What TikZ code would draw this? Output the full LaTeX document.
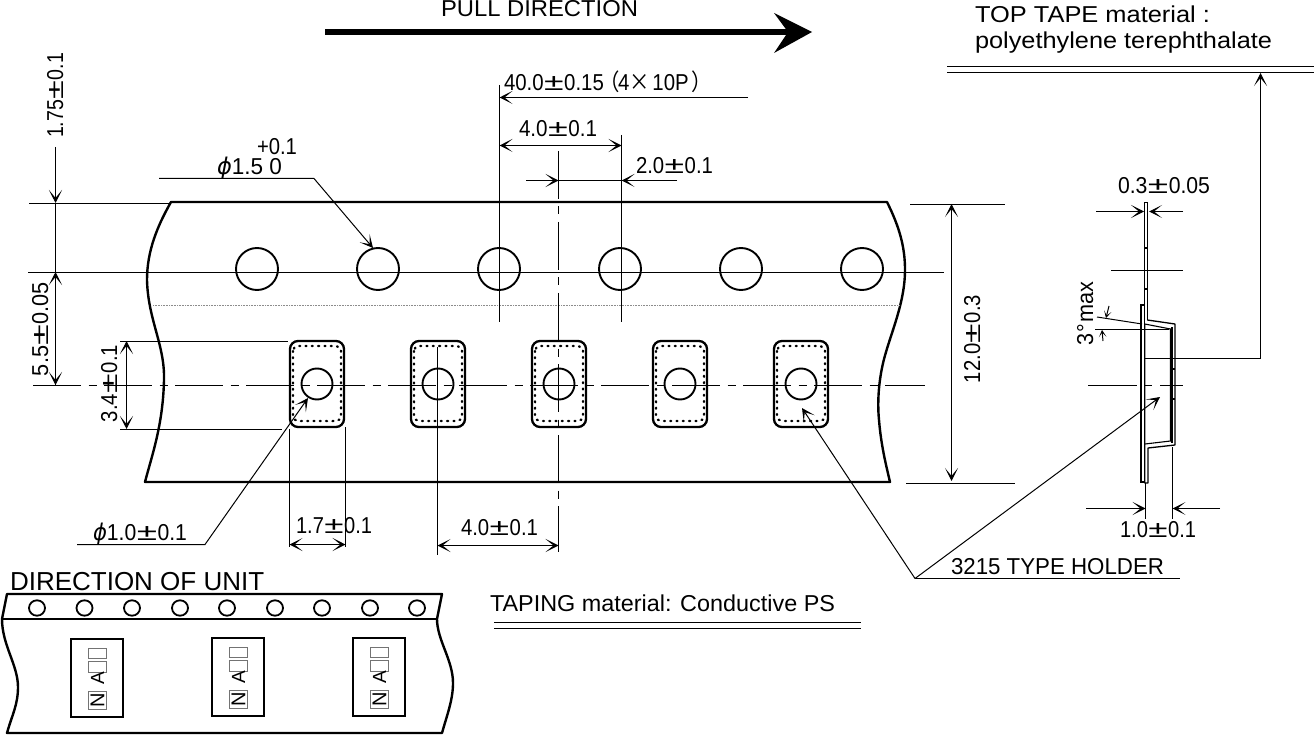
\documentclass[tikz,border=0pt]{standalone}
\usepackage{graphicx}
\usepackage{fontspec}
\setmainfont{Liberation Sans}
\newfontfamily\cjkfont{Noto Sans CJK JP}
\newfontfamily\phifont{DejaVu Sans}
\usetikzlibrary{arrows.meta}
\newcommand{\fitw}[2]{\resizebox{#1pt}{\height}{\fontsize{23}{23}\selectfont #2}}
\newcommand{\pmw}{\kern0.5pt\scalebox{1.75}[1.02]{±}\kern0.5pt}
\newcommand{\phw}{{\phifont\itshape ϕ}}
\newcommand{\lab}[5]{\node[txt] (#1) at (#2,#3) {\fitw{#4}{#5}};}
\newcommand{\rlab}[5]{\node[txt,rotate=90] (#1) at (#2,#3) {\fitw{#4}{#5}};}
\tikzset{
  tp/.tip={Stealth[length=13pt,width=13pt,inset=8pt]},
  stp/.tip={Stealth[length=7pt,width=7.5pt,inset=4.5pt]},
  txt/.style={anchor=base west,inner sep=0pt,outer sep=0pt},
  thinline/.style={line width=1pt},
  outline/.style={line width=2.4pt,line join=round},
  centre/.style={line width=1pt,dash pattern=on 48pt off 7.5pt on 8pt off 7.5pt},
  dimline/.style={line width=1pt,-tp},
  dimboth/.style={line width=1pt,tp-tp},
  pocket/.style={line width=2.3pt,rounded corners=8pt},
  dots/.style={line width=2.4pt,line cap=round,dash pattern=on 0.9pt off 5.4pt,rounded corners=5pt},
  roundhole/.style={line width=1.9pt},
  unitbox/.style={line width=1.8pt},
  markbox/.style={line width=1pt,draw=black!55}
}
\begin{document}
\begin{tikzpicture}[x=1pt,y=-1pt]
\useasboundingbox (0,0) rectangle (1314,735);
% pull arrow
\draw[line width=6pt] (325,32) -- (792,32);
\fill (812,32) -- (774,13) -- (788,32) -- (774,53) -- cycle;
\lab{pull}{441}{17}{197}{PULL DIRECTION}
% top tape note
\lab{tta}{975}{23}{235}{TOP TAPE material :}
\lab{ttb}{975}{49}{297}{polyethylene terephthalate}
\draw[thinline] (947,66.5) -- (1314,66.5);
\draw[thinline] (947,72.5) -- (1314,72.5);
\draw[thinline,-tp] (1145,358.5) -- (1260.5,358.5) -- (1260.5,73);
% main tape outline
\draw[outline] (171,202) -- (887,202)
  .. controls (900,228) and (905,248) .. (905,270)
  .. controls (905,300) and (893,328) .. (886,352)
  .. controls (879,375) and (877,400) .. (879,420)
  .. controls (881,445) and (886,465) .. (890,482)
  -- (145,482)
  .. controls (152,455) and (163,425) .. (164,380)
  .. controls (165,345) and (148,320) .. (147,280)
  .. controls (147,250) and (158,225) .. (171,202) -- cycle;
\draw[line width=1pt,draw=black!45,dash pattern=on 1pt off 0.6pt] (153,305.5) -- (900,305.5);
% sprocket holes
\foreach \hx in {257,378,499,620,741,862}
  \draw[roundhole] (\hx,269) circle[radius=21];
% pockets
\foreach \px in {317,438,559,680,801}{
  \draw[pocket] (\px-27,341) rectangle (\px+27,427);
  \draw[dots] (\px-24,346) rectangle (\px+24,421);
  \draw[roundhole] (\px,384) circle[radius=15.5];
}
% horizontal extension lines
\draw[thinline] (29,203.5) -- (171,203.5);
\draw[thinline] (28,272.5) -- (944,272.5);
\draw[centre] (33,385.5) -- (925,385.5);
\draw[thinline] (120,341.5) -- (288,341.5);
\draw[thinline] (120,429.5) -- (282,429.5);
\draw[thinline] (910,204.5) -- (1005,204.5);
\draw[thinline] (906,483.5) -- (1015,483.5);
% vertical extension lines
\draw[thinline] (499.5,85) -- (499.5,322);
\draw[thinline] (621.5,135) -- (621.5,322);
\draw[centre] (558.5,151) -- (558.5,552);
\draw[thinline] (437.5,347) -- (437.5,555);
\draw[thinline] (289.5,429) -- (289.5,547);
\draw[thinline] (345.5,427) -- (345.5,547);
% top dimensions
\draw[dimline] (748,97.5) -- (499.5,97.5);
\lab{d40}{504}{91}{198}{40.0\pmw 0.15\kern-5pt{\cjkfont （}\kern-2pt 4{\cjkfont ×}\kern3pt 10P\kern3pt{\cjkfont ）}\kern-11pt}
\draw[dimboth] (499.5,145.5) -- (621.5,145.5);
\lab{d4a}{519}{137}{78}{4.0\pmw 0.1}
\draw[dimline] (526,180.5) -- (558.5,180.5);
\draw[dimline] (677,180.5) -- (621.5,180.5);
\draw[thinline] (558.5,180.5) -- (621.5,180.5);
\lab{d2}{636}{174}{77}{2.0\pmw 0.1}
% left dimensions
\draw[dimline] (55.5,147) -- (55.5,203);
\draw[thinline] (55.5,203) -- (55.5,272);
\draw[dimline] (55.5,385) -- (55.5,272);
\draw[dimline] (55.5,272) -- (55.5,385);
\rlab{d175}{63}{138}{85}{1.75\pmw 0.1}
\rlab{d55}{48}{376}{94}{5.5\pmw 0.05}
\draw[dimboth] (126.5,341) -- (126.5,429);
\rlab{d34}{117}{422}{77}{3.4\pmw 0.1}
% hole diameter
\draw[thinline,-tp] (159,178.5) -- (314,178.5) -- (373,248);
\lab{phia}{217}{175}{65}{\phw 1.5 0}
\lab{phib}{257}{155}{40}{+0.1}
% pocket hole diameter
\draw[thinline,-tp] (77,544.5) -- (205,544.5) -- (308,398);
\lab{phic}{93}{540}{94}{\phw 1.0\pmw 0.1}
% bottom dimensions
\draw[dimboth] (289.5,544.5) -- (345.5,544.5);
\lab{d17}{296}{533}{76}{1.7\pmw 0.1}
\draw[dimboth] (437.5,545.5) -- (558.5,545.5);
\lab{d4b}{461}{535}{77}{4.0\pmw 0.1}
% width
\draw[dimboth] (951.5,204) -- (951.5,481);
\rlab{d12}{980}{383}{88}{12.0\pmw 0.3}
% holder leaders
\coordinate (hld) at (915,578.5);
\draw[thinline] (hld) -- (1180,578.5);
\draw[dimline] (hld) -- (802,408);
\draw[dimline] (hld) -- (1160,397);
\lab{hold}{951}{574}{213}{3215 TYPE HOLDER}
% taping note
\lab{tap}{490}{611}{345}{TAPING material: Conductive PS}
\draw[thinline] (494,622.5) -- (861,622.5);
\draw[thinline] (494,628.5) -- (861,628.5);
% side view
\draw[thinline] (1147.3,320) -- (1147.3,203) -- (1144,203) -- (1144,305);
\draw[line width=1.3pt] (1141,305) rectangle (1144.2,482);
\draw[line width=1.3pt,line join=round] (1147.3,320) -- (1175,324) -- (1175,445) -- (1148,448) -- (1148,483) -- (1144.7,483) -- (1144.7,324);
\draw[line width=1.1pt] (1144.7,324) -- (1170.5,329) -- (1170.5,441) -- (1145,444);
\draw[line width=1.8pt] (1172,327) -- (1172,443);
\draw[line width=1.6pt] (1144,248) -- (1147,248) (1144,289) -- (1147,289);
\draw[line width=1.6pt] (1170.5,369) -- (1175,369) (1170.5,399) -- (1175,399);
\draw[dimline] (1096,211.5) -- (1144,211.5);
\draw[dimline] (1183,211.5) -- (1149,211.5);
\draw[thinline] (1111,270.5) -- (1183,270.5);
\lab{d03}{1118}{194}{92}{0.3\pmw 0.05}
\draw[line width=1pt,dash pattern=on 49pt off 7pt on 8pt off 8pt] (1088,385.5) -- (1183,385.5);
\draw[thinline] (1097,317) -- (1142,324);
\draw[thinline] (1095,329.5) -- (1169,329.5);
\draw[line width=1pt,-stp] (1109,306) -- (1106,318);
\draw[line width=1pt,-stp] (1103,341) -- (1102,330);
\rlab{d3}{1093}{345}{63}{3\kern0.5pt°\kern1pt max}
\draw[thinline] (1145.5,483) -- (1145.5,519);
\draw[thinline] (1172.5,447) -- (1172.5,519);
\draw[dimline] (1086,508.5) -- (1145.5,508.5);
\draw[dimline] (1220,508.5) -- (1172.5,508.5);
\lab{d10}{1120}{537}{76}{1.0\pmw 0.1}
% direction of unit
\node[txt] (dirn) at (10,590) {\fontsize{26}{26}\selectfont DIRECTION OF UNIT};
\draw[outline] (7,594) -- (442,594) -- (437,619)
  .. controls (437,640) and (453,660) .. (453,683)
  .. controls (453,700) and (447,715) .. (442,733)
  -- (7,733)
  .. controls (12,715) and (18,705) .. (18,687)
  .. controls (18,665) and (2,645) .. (2,619) -- cycle;
\draw[line width=1.8pt] (2,619) -- (437,619);
\foreach \cx in {37,84.5,132,180,227,275,322,370,417}
  \draw[line width=1.8pt] (\cx,608) ellipse[x radius=8,y radius=7.7];
\foreach \ux/\uy in {97/0,238/-1,379/-1}{
  \draw[unitbox] (\ux-26,639+\uy) rectangle (\ux+26,717+\uy);
  \draw[markbox] (\ux-9,648+\uy) rectangle (\ux+9.5,658+\uy);
  \draw[markbox] (\ux-9,661+\uy) rectangle (\ux+9.5,672+\uy);
  \draw[markbox] (\ux-9,691+\uy) rectangle (\ux+9.5,709+\uy);
  \node[inner sep=0pt,rotate=90,font=\fontsize{19}{19}\selectfont] (mka\ux) at (\ux+0.5,678+\uy) {A};
  \node[inner sep=0pt,rotate=90,font=\fontsize{20}{20}\selectfont] (mkn\ux) at (\ux+0.5,700+\uy) {N};
}
\end{tikzpicture}
\end{document}
